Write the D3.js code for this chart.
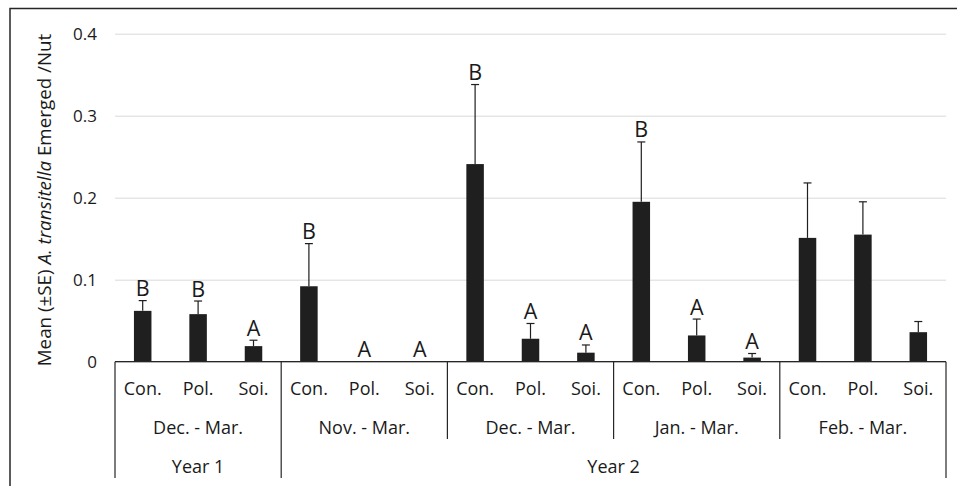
<!DOCTYPE html>
<html>
<head>
<meta charset="utf-8">
<script src="https://cdn.jsdelivr.net/npm/d3@7"></script>
<style>
  body { margin: 0; background: #fff; }
  svg { display: block; font-family: "Open Sans", sans-serif; }
</style>
</head>
<body>
<svg id="chart" width="957" height="486"></svg>
<script>
// chart values
const treatments = ["Con.", "Pol.", "Soi."];
const periods = ["Dec. - Mar.", "Nov. - Mar.", "Dec. - Mar.", "Jan. - Mar.", "Feb. - Mar."];
const periodYear = ["Year 1", "Year 2", "Year 2", "Year 2", "Year 2"];
const years = ["Year 1", "Year 2"];
const means = [0.062, 0.058, 0.019, 0.092, 0, 0, 0.241, 0.028, 0.011, 0.195, 0.032, 0.005, 0.151, 0.155, 0.036];
const se = [0.0125, 0.016, 0.0072, 0.052, 0, 0, 0.097, 0.0186, 0.0094, 0.073, 0.020, 0.005, 0.067, 0.040, 0.013];
const letters = ["B", "B", "A", "B", "A", "A", "B", "A", "A", "B", "A", "A", "", "", ""];
const yTicks = [0, 0.1, 0.2, 0.3, 0.4];

const svg = d3.select("#chart");
const plotL = 115, plotR = 946, plotT = 33.7, zeroY = 361.7;
const ink = "#1a1a1a";

// one slot per bar
const cats = means.map((d, i) => i);
const x = d3.scaleBand().domain(cats).range([plotL, plotR]).padding(0);
const y = d3.scaleLinear().domain([0, 0.4]).range([zeroY, plotT]);
const barW = x.bandwidth() * 0.316;

// outer frame (runs off the right and bottom edge)
svg.append("rect")
  .attr("x", 10).attr("y", 8.5)
  .attr("width", 1000).attr("height", 600)
  .attr("fill", "none").attr("stroke", "#262626").attr("stroke-width", 1.5);

// gridlines
svg.append("g")
  .attr("transform", "translate(" + plotL + ",0)")
  .call(d3.axisLeft(y).tickValues(yTicks).tickSize(-(plotR - plotL)).tickFormat(""))
  .call(g => g.select(".domain").remove())
  .call(g => g.selectAll("line").attr("stroke", "#d9d9d9").attr("stroke-width", 1));

// y tick labels
svg.append("g")
  .attr("transform", "translate(" + plotL + ",0)")
  .call(d3.axisLeft(y).tickValues(yTicks).tickSize(0).tickPadding(18)
    .tickFormat(d => d === 0 ? "0" : d3.format(".1f")(d)))
  .call(g => g.select(".domain").remove())
  .call(g => g.selectAll("text").attr("font-size", 17).attr("fill", ink)
    .attr("font-family", "Open Sans, sans-serif"));

// y title
const title = svg.append("text")
  .attr("transform", "translate(51,200) rotate(-90)")
  .attr("text-anchor", "middle")
  .attr("font-size", 18.8)
  .attr("fill", ink);
title.append("tspan").text("Mean (±SE) ");
title.append("tspan").attr("font-style", "italic").text("A. transitella");
title.append("tspan").text(" Emerged /Nut");

// bars
svg.append("g").selectAll("rect")
  .data(cats.filter(i => means[i] > 0))
  .join("rect")
  .attr("x", i => x(i) + (x.bandwidth() - barW) / 2)
  .attr("y", i => y(means[i]))
  .attr("width", barW)
  .attr("height", i => y(0) - y(means[i]))
  .attr("fill", "#1f1f1f");

// error bars
const err = svg.append("g").attr("stroke", "#1f1f1f").attr("stroke-width", 1.2);
cats.filter(i => se[i] > 0).forEach(i => {
  const cx = x(i) + x.bandwidth() / 2;
  err.append("line").attr("x1", cx).attr("x2", cx)
    .attr("y1", y(means[i])).attr("y2", y(means[i] + se[i]));
  err.append("line").attr("x1", cx - 4).attr("x2", cx + 4)
    .attr("y1", y(means[i] + se[i])).attr("y2", y(means[i] + se[i]));
});

// significance letters
svg.append("g").selectAll("text")
  .data(cats.filter(i => letters[i] !== ""))
  .join("text")
  .attr("x", i => x(i) + x.bandwidth() / 2)
  .attr("y", i => y(means[i] + se[i]) - 4.5)
  .attr("text-anchor", "middle")
  .attr("font-size", 21.5)
  .attr("fill", ink)
  .text(i => letters[i]);

// category axis
const axis = svg.append("g").attr("stroke", "#262626").attr("stroke-width", 1.2);
axis.append("line").attr("x1", plotL).attr("x2", plotR).attr("y1", zeroY).attr("y2", zeroY);

const catY = 394.5, periodY = 434, yearY = 472.5, labelSize = 18;
svg.append("g").selectAll("text")
  .data(cats)
  .join("text")
  .attr("x", i => x(i) + x.bandwidth() / 2)
  .attr("y", catY)
  .attr("text-anchor", "middle")
  .attr("font-size", labelSize)
  .attr("fill", ink)
  .text(i => treatments[i % treatments.length]);

periods.forEach((p, k) => {
  const x0 = x(k * 3), x1 = k * 3 + 3 < cats.length ? x(k * 3 + 3) : plotR;
  svg.append("text")
    .attr("x", (x0 + x1) / 2).attr("y", periodY)
    .attr("text-anchor", "middle").attr("font-size", labelSize).attr("fill", ink)
    .text(p);
  // left edge of each period; long when it starts a new year
  const newYear = k === 0 || periodYear[k] !== periodYear[k - 1];
  axis.append("line").attr("x1", x0).attr("x2", x0)
    .attr("y1", zeroY).attr("y2", newYear ? 478 : 439);
});
axis.append("line").attr("x1", plotR).attr("x2", plotR).attr("y1", zeroY).attr("y2", 478);

years.forEach(yr => {
  const idx = periods.map((p, k) => k).filter(k => periodYear[k] === yr);
  const x0 = x(idx[0] * 3);
  const last = idx[idx.length - 1] * 3 + 3;
  const x1 = last < cats.length ? x(last) : plotR;
  svg.append("text")
    .attr("x", (x0 + x1) / 2).attr("y", yearY)
    .attr("text-anchor", "middle").attr("font-size", labelSize).attr("fill", ink)
    .text(yr);
});
</script>
</body>
</html>
